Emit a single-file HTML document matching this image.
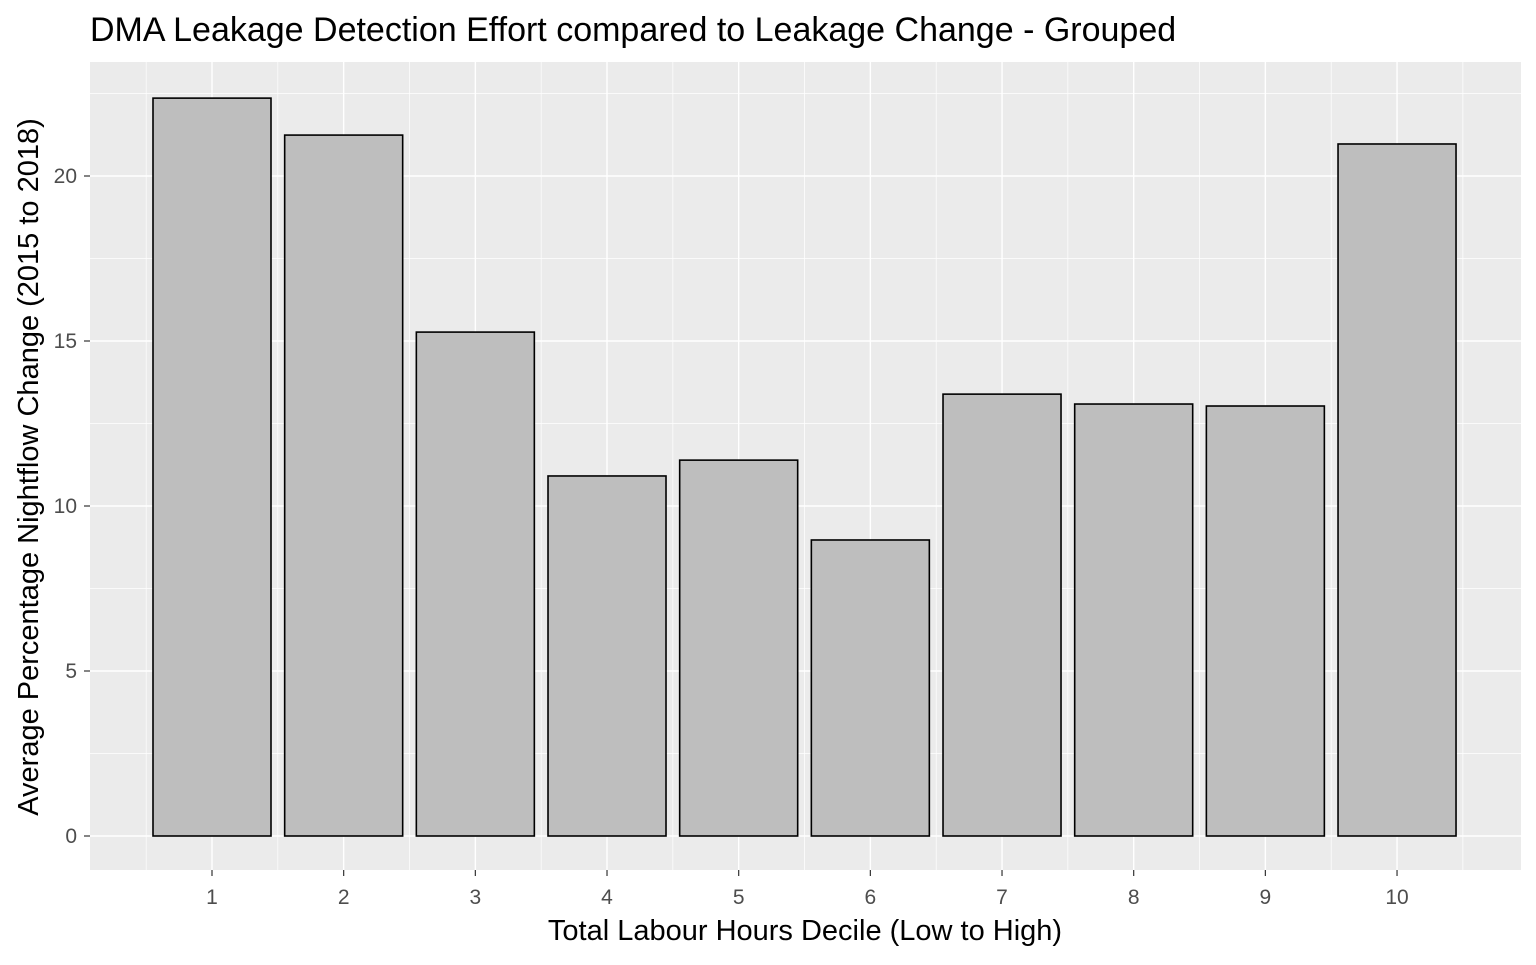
<!DOCTYPE html>
<html><head><meta charset="utf-8"><style>
body{margin:0;background:#fff;font-family:"Liberation Sans",sans-serif}
</style></head><body>
<svg id="c" width="1536" height="960" xmlns="http://www.w3.org/2000/svg">
<text x="90" y="41" font-size="34" fill="#000">DMA Leakage Detection Effort compared to Leakage Change - Grouped</text>
<rect x="90" y="62" width="1431" height="808" fill="#ebebeb"/>
<g id="grid"></g><g id="bars"></g><g id="ticks"></g>
<text x="805" y="940" font-size="29" text-anchor="middle" fill="#000">Total Labour Hours Decile (Low to High)</text>
<text transform="translate(38,467) rotate(-90)" font-size="29" text-anchor="middle" fill="#000">Average Percentage Nightflow Change (2015 to 2018)</text>
</svg>
<script>
const categories=["1","2","3","4","5","6","7","8","9","10"];
const values=[22.36,21.24,15.27,10.91,11.39,8.97,13.39,13.09,13.03,20.97];
const yTicks=[0,5,10,15,20];
const ns="http://www.w3.org/2000/svg";
const xs=i=>212+i*131.67;
const ys=v=>836-v*33;
function mk(t,a,p){const e=document.createElementNS(ns,t);for(const k in a)e.setAttribute(k,a[k]);p.appendChild(e);return e;}
const grid=document.getElementById('grid'),bars=document.getElementById('bars'),ticks=document.getElementById('ticks');
for(let k=0;k<yTicks.length;k++){
 const v=yTicks[k];
 const l=mk('line',{x1:90,x2:1521,y1:ys(v),y2:ys(v),stroke:'#fff','stroke-width':1.4},grid);
 
 
 const m=mk('line',{x1:90,x2:1521,y1:ys(v+2.5),y2:ys(v+2.5),stroke:'#fff','stroke-width':0.7},grid);
 
 
 const t=mk('text',{x:77,y:ys(v)+7,'font-size':21,fill:'#4d4d4d','text-anchor':'end'},ticks);
 t.textContent=v;
 
 
 mk('line',{x1:84,x2:90,y1:ys(v),y2:ys(v),stroke:'#333','stroke-width':1.2},ticks);
}
for(let i=-1;i<categories.length;i++){
 const m=mk('line',{x1:xs(i+0.5),x2:xs(i+0.5),y1:62,y2:870,stroke:'#fff','stroke-width':0.7},grid);
 
 
}
categories.forEach((c,i)=>{
 const g=mk('line',{x1:xs(i),x2:xs(i),y1:62,y2:870,stroke:'#fff','stroke-width':1.4},grid);
 
 
 const b=mk('rect',{x:xs(i)-59,y:ys(values[i]),width:118,height:ys(0)-ys(values[i]),fill:'#bebebe',stroke:'#000','stroke-width':1.6},bars);
 
 
 mk('line',{x1:xs(i),x2:xs(i),y1:870,y2:876,stroke:'#333','stroke-width':1.2},ticks);
 const t=mk('text',{x:xs(i),y:904,'font-size':21,fill:'#4d4d4d','text-anchor':'middle'},ticks);
 t.textContent=c;
 
 
});
</script>
</body></html>
